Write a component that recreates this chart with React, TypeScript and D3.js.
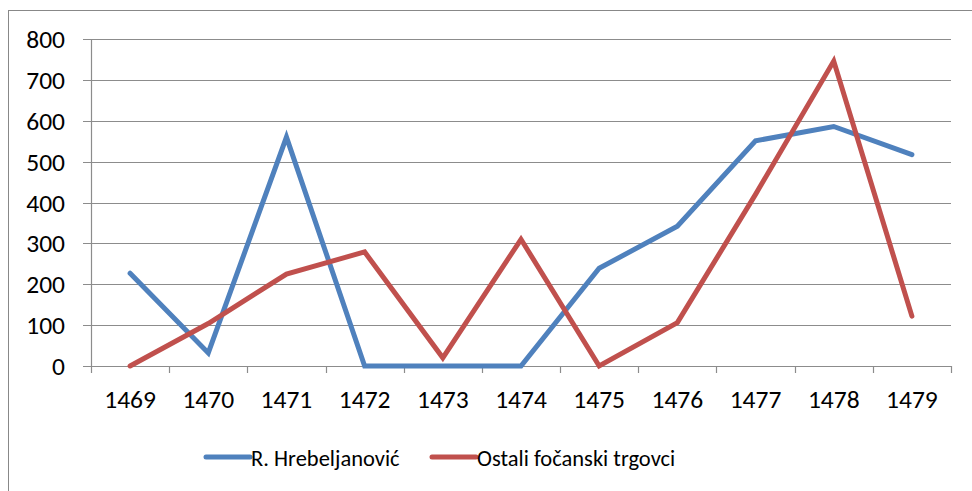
import React, { useEffect, useRef } from 'react';
import * as d3 from 'd3';

// years on the x axis
const years = ['1469', '1470', '1471', '1472', '1473', '1474', '1475', '1476', '1477', '1478', '1479'];
// R. Hrebeljanović
const hrebeljanovic = [227, 32, 560, 0, 0, 0, 239, 342, 551, 586, 517];
// Ostali fočanski trgovci
const ostali = [0, 104, 225, 279, 20, 310, 0, 106, 420, 746, 122];
const yTicks = [0, 100, 200, 300, 400, 500, 600, 700, 800];
const seriesNames = ['R. Hrebeljanović', 'Ostali fočanski trgovci'];
const seriesColors = ['#4F81BD', '#C0504D'];

const W = 972,
  H = 491;

const buildChart = (el: SVGSVGElement) => {
  const svg = d3.select(el);
  svg.selectAll('*').remove();

  const margin = { top: 39, left: 91, right: 21, bottom: 125 };
  const font = "Carlito, Calibri, 'Open Sans', sans-serif";

  // outer chart border
  svg
    .append('rect')
    .attr('x', 8.5)
    .attr('y', 10.5)
    .attr('width', W)
    .attr('height', H)
    .attr('fill', 'white')
    .attr('stroke', '#888')
    .attr('stroke-width', 1);

  const x = d3
    .scaleBand()
    .domain(years)
    .range([margin.left, W - margin.right]);
  const y = d3
    .scaleLinear()
    .domain([0, 800])
    .range([H - margin.bottom, margin.top]);

  const g = svg.append('g');

  // gridlines and y ticks
  yTicks.forEach(t => {
    const yy = Math.round(y(t)) + 0.5;
    g.append('line')
      .attr('x1', margin.left - 8)
      .attr('x2', W - margin.right)
      .attr('y1', yy)
      .attr('y2', yy)
      .attr('stroke', '#8c8c8c')
      .attr('stroke-width', 1.2);
    g.append('text')
      .attr('x', 65)
      .attr('y', yy)
      .attr('dy', '0.34em')
      .attr('text-anchor', 'end')
      .attr('font-family', font)
      .attr('font-size', 25.5)
      .attr('fill', '#000')
      .text(t);
  });

  // y axis line
  g.append('line')
    .attr('x1', margin.left + 0.5)
    .attr('x2', margin.left + 0.5)
    .attr('y1', y(800))
    .attr('y2', y(0))
    .attr('stroke', '#8c8c8c')
    .attr('stroke-width', 1.2);

  // x tick marks at category boundaries
  const bounds = years.map(d => x(d) as number).concat([W - margin.right]);
  bounds.forEach(b => {
    g.append('line')
      .attr('x1', Math.round(b) + 0.5)
      .attr('x2', Math.round(b) + 0.5)
      .attr('y1', y(0))
      .attr('y2', y(0) + 7)
      .attr('stroke', '#8c8c8c')
      .attr('stroke-width', 1.2);
  });

  // x labels
  years.forEach(d => {
    g.append('text')
      .attr('x', (x(d) as number) + x.bandwidth() / 2)
      .attr('y', 408)
      .attr('text-anchor', 'middle')
      .attr('font-family', font)
      .attr('font-size', 25.5)
      .attr('fill', '#000')
      .text(d);
  });

  // lines
  const line = d3
    .line<number>()
    .x((_, i) => (x(years[i]) as number) + x.bandwidth() / 2)
    .y(v => y(v));

  [hrebeljanovic, ostali].forEach((data, i) => {
    g.append('path')
      .datum(data)
      .attr('d', line)
      .attr('fill', 'none')
      .attr('stroke', seriesColors[i])
      .attr('stroke-width', 5)
      .attr('stroke-linejoin', 'miter')
      .attr('stroke-linecap', 'round');
  });

  // legend
  const legendX = [206, 432];
  seriesNames.forEach((name, i) => {
    const lg = g.append('g');
    lg.append('line')
      .attr('x1', legendX[i])
      .attr('x2', legendX[i] + 44)
      .attr('y1', 457)
      .attr('y2', 457)
      .attr('stroke', seriesColors[i])
      .attr('stroke-width', 5)
      .attr('stroke-linecap', 'round');
    lg.append('text')
      .attr('x', legendX[i] + 45)
      .attr('y', 458)
      .attr('dy', '0.34em')
      .attr('font-family', font)
      .attr('font-size', 22.5)
      .attr('fill', '#000')
      .text(name);
  });
};

const App = () => {
  const ref = useRef<SVGSVGElement>(null);
  useEffect(() => {
    if (ref.current) buildChart(ref.current);
  }, []);

  return (
    <div style={{ position: 'fixed', left: 0, top: 0, width: W, height: H, background: '#fff' }}>
      <svg ref={ref} width={W} height={H} style={{ display: 'block' }} />
    </div>
  );
};

export default App;
